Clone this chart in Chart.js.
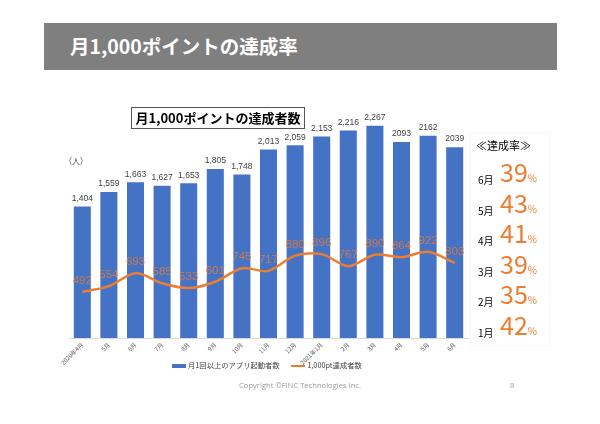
<!DOCTYPE html>
<html>
<head>
<meta charset="utf-8">
<script src="https://cdn.jsdelivr.net/npm/chart.js@4/dist/chart.umd.min.js"></script>
<style>
  body { margin: 0; background: #fff; }
  #page { position: relative; width: 600px; height: 424px; overflow: hidden; font-family: "Noto Sans CJK JP", "Noto Sans", sans-serif; }
  #c { position: absolute; left: 0; top: 0; }
  .abs { position: absolute; white-space: nowrap; }
  #titlebar { left: 44px; top: 23px; width: 513px; height: 47px; background: #7f7f7f; }
  #titlebar span { position: absolute; left: 26px; top: 10px; color: #fff; font-weight: bold; font-size: 19.5px; line-height: 26px; }
  #ctitle { left: 131px; top: 107px; width: 172px; height: 20px; border: 1px solid #555; font-weight: bold; font-size: 13px; line-height: 20px; text-align: center; color: #000; }
  #unit { left: 64px; top: 155px; font-size: 8px; color: #404040; }
  #legend { left: 172px; top: 359px; font-size: 7.3px; color: #404040; line-height: 12px; }
  #legend i { display: inline-block; vertical-align: middle; margin-right: 2px; }
  #panel { left: 470px; top: 132px; width: 78px; height: 212px; border: 1px solid #f6f6f6; }
  #rtitle { left: 476px; top: 137px; font-size: 11px; color: #000; }
  .row { position: absolute; left: 478px; width: 70px; height: 30px; white-space: nowrap; }
  .row .m { position: absolute; left: 0; bottom: 4px; font-size: 10px; color: #000; }
  .row .v { position: absolute; left: 22px; bottom: -2px; font-size: 25px; color: #ed7d31; line-height: 30px; }
  .row .p { font-size: 10px; }
  #copy { left: 0; width: 600px; top: 380px; text-align: center; font-size: 7.6px; color: #999; font-family: "Open Sans", sans-serif; }
  #pg { left: 510px; top: 380px; font-size: 7.6px; color: #999; font-family: "Open Sans", sans-serif; }
</style>
</head>
<body>
<div id="page">
  <canvas id="c" width="600" height="424"></canvas>
  <div id="titlebar" class="abs"><span>月1,000ポイントの達成率</span></div>
  <div id="ctitle" class="abs">月1,000ポイントの達成者数</div>
  <div id="unit" class="abs">（人）</div>
  <div id="legend" class="abs">
    <i style="width:14px;height:4px;background:#4472c4"></i>月1回以上のアプリ起動者数
    <i style="width:14px;height:2px;background:#ed7d31;margin-left:10px"></i>1,000pt達成者数
  </div>
  <div id="panel" class="abs"></div>
  <div id="rtitle" class="abs">≪達成率≫</div>
  <div id="rates"></div>
  <div id="copy" class="abs">Copyright ©FINC Technologies Inc.</div>
  <div id="pg" class="abs">8</div>
</div>
<script>
// 月別データ
const months = ['2020年4月', '5月', '6月', '7月', '8月', '9月', '10月', '11月', '12月', '2021年1月', '2月', '3月', '4月', '5月', '6月'];
const activeUsers = [1404, 1559, 1663, 1627, 1653, 1805, 1748, 2013, 2059, 2153, 2216, 2267, 2093, 2162, 2039];
const achievers = [492, 554, 693, 585, 533, 601, 745, 717, 880, 896, 767, 890, 864, 922, 803];
const rateMonths = ['6月', '5月', '4月', '3月', '2月', '1月'];

// 達成率パネル (直近6か月, 新しい順)
const rates = document.getElementById('rates');
rateMonths.forEach(function (m, k) {
    const i = months.length - 1 - k;
    const pct = Math.round(achievers[i] / activeUsers[i] * 100);
    const row = document.createElement('div');
    row.className = 'row';
    row.style.top = (161 + k * 30.5) + 'px';
    row.innerHTML = '<span class="m">' + m + '</span><span class="v">' + pct + '<span class="p">%</span></span>';
    rates.appendChild(row);
});

const valueLabels = {
    id: 'valueLabels',
    afterDatasetsDraw(chart) {
        const ctx = chart.ctx;
        ctx.save();
        ctx.textAlign = 'center';
        ctx.textBaseline = 'middle';
        chart.data.datasets.forEach(function (ds, di) {
            const meta = chart.getDatasetMeta(di);
            meta.data.forEach(function (el, i) {
                const v = ds.data[i];
                if (ds.type === 'bar') {
                    ctx.font = '8.5px "Liberation Sans", Arial, sans-serif';
                    ctx.fillStyle = '#404040';
                    // 最後の3か月は元資料どおりカンマなし
                    const txt = i < 12 ? v.toLocaleString('en-US') : String(v);
                    ctx.fillText(txt, el.x, el.y - 8);
                } else {
                    ctx.font = '11.5px "Liberation Sans", Arial, sans-serif';
                    ctx.fillStyle = 'rgba(237,125,49,0.8)';
                    ctx.fillText(String(v), el.x, el.y - 11);
                }
            });
        });
        ctx.restore();
    }
};

new Chart(document.getElementById('c'), {
    data: {
        labels: months,
        datasets: [
            {
                type: 'line',
                label: '1,000pt達成者数',
                data: achievers,
                borderColor: '#ed7d31',
                borderWidth: 2.5,
                pointRadius: 0,
                tension: 0.3,
                fill: false,
                order: 0,
            },
            {
                type: 'bar',
                label: '月1回以上のアプリ起動者数',
                data: activeUsers,
                backgroundColor: '#4472c4',
                barPercentage: 0.8,
                categoryPercentage: 0.8,
                order: 1,
            },
        ],
    },
    options: {
        responsive: false,
        maintainAspectRatio: false,
        animation: false,
        layout: { padding: { left: 69, right: 132, top: 104, bottom: 56 } },
        plugins: { legend: { display: false }, tooltip: { enabled: false } },
        scales: {
            x: {
                grid: { display: false, drawTicks: false },
                border: { color: '#d9d9d9' },
                ticks: {
                    color: '#595959',
                    font: { size: 6, family: '"Noto Sans CJK JP", sans-serif' },
                    minRotation: 45,
                    maxRotation: 45,
                    padding: 3,
                    autoSkip: false,
                },
                afterFit(scale) { scale.height = 30; },
            },
            y: {
                display: false,
                min: 0,
                max: 2500,
            },
        },
    },
    plugins: [valueLabels],
});
</script>
</body>
</html>
